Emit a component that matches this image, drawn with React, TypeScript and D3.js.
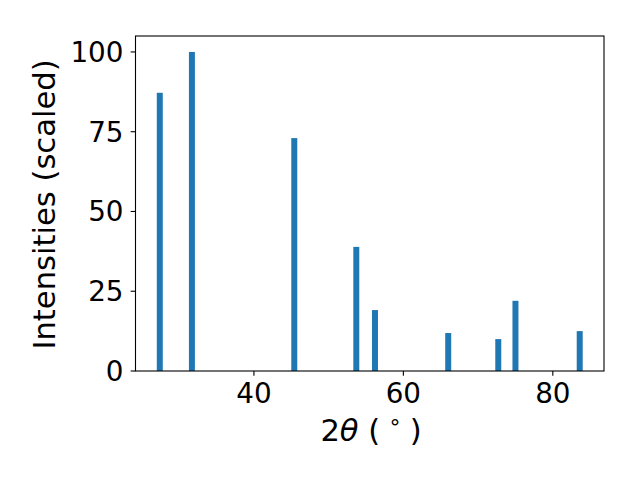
import * as d3 from 'd3';

const twoTheta = [27.4, 31.7, 45.4, 53.7, 56.2, 66.0, 72.7, 75.0, 83.6];
const intensities = [87.2, 100, 73.0, 38.9, 19.1, 11.9, 10.0, 22.0, 12.5];
const xTicks = [40, 60, 80];
const yTicks = [0, 25, 50, 75, 100];

const W = 640;
const H = 480;
const left = 135.5;
const right = 604;
const top = 36;
const bottom = 371;
const barWidth = 0.8;
const font = 'DejaVu Sans, sans-serif';
const tickFs = 27.8;
const labelFs = 30.6;
const tickLen = 4.86;

export default function App() {
	const xMin = d3.min(twoTheta)! - barWidth / 2;
	const xMax = d3.max(twoTheta)! + barWidth / 2;
	const xPad = (xMax - xMin) * 0.05;
	const x = d3.scaleLinear()
		.domain([xMin - xPad, xMax + xPad])
		.range([left, right]);
	const y = d3.scaleLinear()
		.domain([0, 105])
		.range([bottom, top]);

	return (
		<svg width={W} height={H} style={{ position: 'absolute', left: 0, top: 0, background: '#fff' }} fontFamily={font}>
			{twoTheta.map((t, i) => (
				<rect key={i}
					x={x(t - barWidth / 2)}
					width={x(t + barWidth / 2) - x(t - barWidth / 2)}
					y={y(intensities[i])}
					height={y(0) - y(intensities[i])}
					fill="#1f77b4" />
			))}
			<rect x={left} y={top} width={right - left} height={bottom - top}
				fill="none" stroke="#000" strokeWidth={1.1} />
			{xTicks.map(t => (
				<g key={t}>
					<line x1={x(t)} x2={x(t)} y1={bottom} y2={bottom + tickLen} stroke="#000" strokeWidth={1.1} />
					<text x={x(t)} y={403} textAnchor="middle" fontSize={tickFs}>{t}</text>
				</g>
			))}
			{yTicks.map(t => (
				<g key={t}>
					<line x1={left - tickLen} x2={left} y1={y(t)} y2={y(t)} stroke="#000" strokeWidth={1.1} />
					<text x={123.5} y={y(t)} dy="0.36em" textAnchor="end" fontSize={tickFs}>{t}</text>
				</g>
			))}
			<text x={371} y={441} textAnchor="middle" fontSize={labelFs}>
				2<tspan fontStyle="italic">θ</tspan> (<tspan fontSize={labelFs * 0.7} dx={8} dy={-12}>∘</tspan><tspan dx={8} dy={12}>)</tspan>
			</text>
			<text transform={`translate(55,${(top + bottom) / 2 + 1}) rotate(-90)`} textAnchor="middle" fontSize={labelFs}>
				Intensities (scaled)
			</text>
		</svg>
	);
}
